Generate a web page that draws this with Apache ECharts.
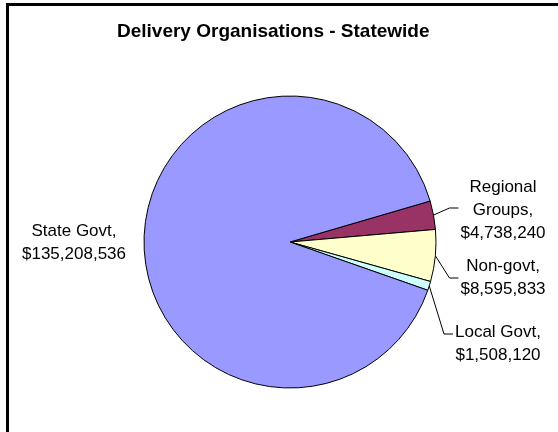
<!DOCTYPE html>
<html>
<head>
<meta charset="utf-8">
<script src="https://cdn.jsdelivr.net/npm/echarts@6/dist/echarts.min.js"></script>
<style>
  html, body { margin: 0; padding: 0; background: #fff; }
  #chart { width: 558px; height: 432px; }
</style>
</head>
<body>
<div id="chart"></div>
<script>
// Funding by delivery organisation, listed clockwise from the upper right
const categories = ['Regional Groups', 'Non-govt', 'Local Govt', 'State Govt'];
const labelNames = ['Regional\nGroups', 'Non-govt', 'Local Govt', 'State Govt'];
const amounts = [4738240, 8595833, 1508120, 135208536];
const sliceColors = ['#993366', '#FFFFCC', '#CCFFFF', '#9999FF'];

// Where each label block is centred, and how its leader line meets it
const labelCentres = [[503, 210], [503, 278], [498, 344], [74, 243]];
const lineEndOffsetY = [-2, 0, -10, 0];

const fmtMoney = v => '$' + v.toLocaleString('en-US');

const chart = echarts.init(document.getElementById('chart'), null, { renderer: 'canvas' });

chart.setOption({
  animation: false,
  backgroundColor: '#fff',
  title: {
    text: 'Delivery Organisations - Statewide',
    left: 112,
    top: 17,
    textStyle: {
      fontFamily: 'Liberation Sans, Arial, sans-serif',
      fontSize: 19,
      fontWeight: 'bold',
      color: '#000'
    }
  },
  graphic: [{
    type: 'rect',
    shape: { x: 7.5, y: 4.5, width: 600, height: 500 },
    style: { fill: 'none', stroke: '#000', lineWidth: 3 },
    silent: true
  }],
  series: [{
    type: 'pie',
    center: [290, 242],
    radius: [0, 146],
    startAngle: 16.3,
    clockwise: true,
    avoidLabelOverlap: false,
    itemStyle: { borderColor: '#000', borderWidth: 1 },
    emphasis: { disabled: true },
    label: {
      show: true,
      position: 'outside',
      formatter: p => labelNames[p.dataIndex] + ',\n' + fmtMoney(p.value),
      fontFamily: 'Liberation Sans, Arial, sans-serif',
      fontSize: 17,
      lineHeight: 23,
      color: '#000',
      align: 'center'
    },
    labelLine: {
      show: true,
      length: 10,
      length2: 8,
      lineStyle: { color: '#000', width: 1 }
    },
    labelLayout: function (params) {
      const i = params.dataIndex;
      const c = labelCentres[i];
      const w = params.labelRect.width;
      const out = { x: c[0], y: c[1], align: 'center', verticalAlign: 'middle' };
      if (params.labelLinePoints && categories[i] !== 'State Govt') {
        const anchor = params.labelLinePoints[0];
        const endX = c[0] - w / 2 - 2;
        const endY = c[1] + lineEndOffsetY[i];
        out.labelLinePoints = [anchor, [endX - 9, endY], [endX, endY]];
      }
      return out;
    },
    data: categories.map((name, i) => ({
      name: name,
      value: amounts[i],
      itemStyle: { color: sliceColors[i] },
      labelLine: { show: name !== 'State Govt' }
    }))
  }]
});
</script>
</body>
</html>
